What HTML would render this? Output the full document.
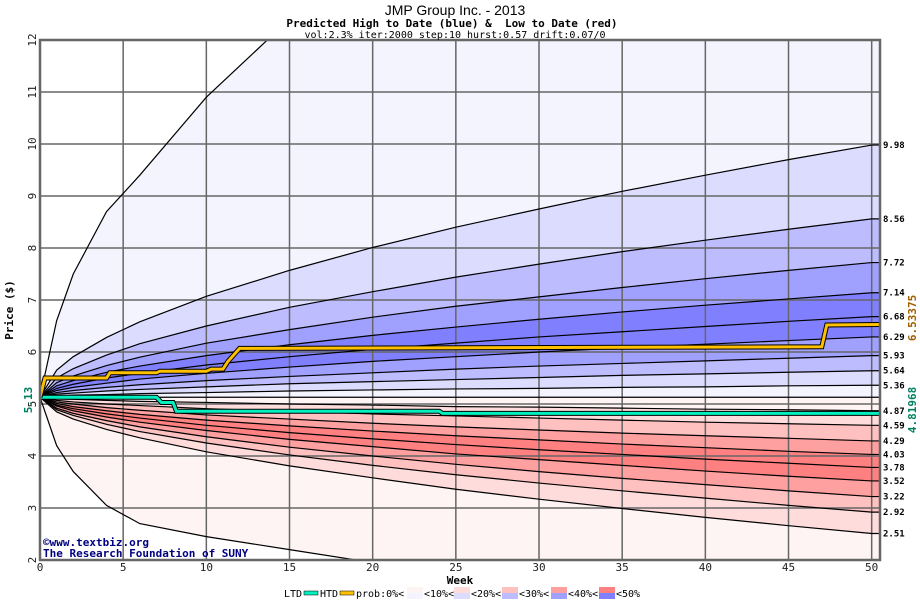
<!DOCTYPE html>
<html><head><meta charset="utf-8"><style>
body{margin:0;background:#fff;width:920px;height:600px;overflow:hidden}
svg{display:block;font-family:"DejaVu Sans Mono","Liberation Mono",monospace}
</style></head><body>
<svg id="c" width="920" height="600" xmlns="http://www.w3.org/2000/svg"></svg>
<script>
const weeks=[0,1,2,4,6,10,15,20,25,30,35,40,45,50,50.5];
const outerHigh=[5.13,6.6,7.5,8.7,9.4,10.9,12.4,12.7,12.9,13.1,13.3,13.5,13.7,13.9,13.9];
const p998=[5.13,5.65,5.91,6.28,6.58,7.07,7.57,8.01,8.40,8.75,9.09,9.40,9.70,9.98,9.98];
const p856=[5.13,5.50,5.68,5.94,6.16,6.50,6.86,7.16,7.44,7.69,7.93,8.15,8.36,8.56,8.56];
const p772=[5.13,5.41,5.54,5.74,5.90,6.17,6.43,6.67,6.88,7.06,7.24,7.41,7.57,7.72,7.72];
const p714=[5.13,5.35,5.45,5.61,5.73,5.93,6.14,6.32,6.48,6.63,6.77,6.90,7.02,7.14,7.14];
const p668=[5.13,5.30,5.38,5.50,5.59,5.75,5.91,6.05,6.17,6.29,6.39,6.49,6.59,6.68,6.68];
const p629=[5.13,5.26,5.32,5.40,5.48,5.59,5.71,5.82,5.91,6.00,6.08,6.15,6.22,6.29,6.29];
const p593=[5.13,5.22,5.26,5.32,5.37,5.45,5.53,5.60,5.67,5.73,5.78,5.83,5.88,5.93,5.93];
const p564=[5.13,5.19,5.21,5.25,5.28,5.33,5.39,5.43,5.47,5.51,5.55,5.58,5.61,5.64,5.64];
const p536=[5.13,5.15,5.17,5.18,5.20,5.22,5.25,5.27,5.29,5.30,5.32,5.33,5.35,5.36,5.36];
const p513=[5.13,5.13,5.13,5.13,5.13,5.13,5.13,5.13,5.13,5.13,5.13,5.13,5.13,5.13,5.13];
const p487=[5.13,5.10,5.09,5.07,5.05,5.03,5.00,4.98,4.95,4.94,4.92,4.90,4.89,4.87,4.87];
const p459=[5.13,5.07,5.04,5.00,4.97,4.91,4.86,4.81,4.77,4.73,4.69,4.65,4.62,4.59,4.59];
const p429=[5.13,5.04,5.00,4.93,4.88,4.79,4.71,4.63,4.56,4.50,4.44,4.39,4.34,4.29,4.29];
const p403=[5.13,5.01,4.95,4.87,4.80,4.69,4.58,4.48,4.39,4.31,4.23,4.16,4.09,4.03,4.03];
const p378=[5.13,4.98,4.91,4.81,4.73,4.59,4.45,4.33,4.22,4.12,4.03,3.94,3.86,3.78,3.78];
const p352=[5.13,4.96,4.87,4.75,4.65,4.49,4.32,4.18,4.04,3.93,3.82,3.71,3.61,3.52,3.52];
const p322=[5.13,4.92,4.82,4.68,4.56,4.37,4.17,4.00,3.84,3.70,3.57,3.45,3.33,3.22,3.22];
const p292=[5.13,4.89,4.78,4.61,4.47,4.25,4.02,3.82,3.64,3.48,3.33,3.19,3.05,2.92,2.92];
const p251=[5.13,4.85,4.71,4.51,4.35,4.08,3.81,3.58,3.36,3.17,2.99,2.82,2.66,2.51,2.51];
const outerLow=[5.13,4.2,3.7,3.05,2.7,2.45,2.2,1.95,1.8,1.7,1.6,1.5,1.4,1.3,1.3];
const endLabels=["9.98","8.56","7.72","7.14","6.68","6.29","5.93","5.64","5.36","4.87","4.59","4.29","4.03","3.78","3.52","3.22","2.92","2.51"];
const htdWeeks=[0,0.3,4,4.2,7,7.2,10,10.3,11,11.3,12,47,47.3,50.5];
const htdVals=[5.13,5.5,5.5,5.6,5.6,5.63,5.63,5.67,5.67,5.82,6.07,6.1,6.52,6.53];
const ltdWeeks=[0,7,7.3,8,8.2,24,24.2,50.5];
const ltdVals=[5.13,5.13,5.03,5.03,4.86,4.86,4.82,4.82];
const xTicks=[0,5,10,15,20,25,30,35,40,45,50];
const yTicks=[2,3,4,5,6,7,8,9,10,11,12];

const X0=40,X1=880,Y0=40,Y1=560;
const x=w=>X0+w*(X1-X0)/50.5;
const y=v=>Y1-(v-2)*(Y1-Y0)/10;
const NS="http://www.w3.org/2000/svg";
const svg=document.getElementById('c');
function mk(t,a,p){const e=document.createElementNS(NS,t);for(const k in a)e.setAttribute(k,a[k]);(p||svg).appendChild(e);return e;}
function txt(s,a,p){const e=mk('text',a,p);e.textContent=s;return e;}

const defs=mk('defs',{});
const cp=mk('clipPath',{id:'pc'},defs);mk('rect',{x:X0,y:Y0,width:X1-X0,height:Y1-Y0},cp);
const g=mk('g',{'clip-path':'url(#pc)'});
const lines=[outerHigh,p998,p856,p772,p714,p668,p629,p593,p564,p536,p513,p487,p459,p429,p403,p378,p352,p322,p292,p251,outerLow];
const fills=["#f4f4ff","#dcdcff","#bcbcff","#a0a0ff","#8080ff","#8080ff","#a0a0ff","#bcbcff","#dcdcff","#f4f4ff","#fff4f4","#ffdcdc","#ffc0c0","#ffa0a0","#ff8080","#ff8080","#ffa0a0","#ffc0c0","#ffdcdc","#fff4f4"];
for(let i=0;i<lines.length-1;i++){
  const a=lines[i],b=lines[i+1];
  let d=weeks.map((w,j)=>(j?'L':'M')+x(w)+','+y(a[j])).join('');
  for(let j=weeks.length-1;j>=0;j--)d+='L'+x(weeks[j])+','+y(b[j]);
  const band=mk('path',{d:d+'Z',fill:fills[i]},g);
  
  
}
for(const t of xTicks){if(t>0)mk('line',{x1:x(t),x2:x(t),y1:Y0,y2:Y1,stroke:'#666','stroke-width':1.5},g);}
for(const t of yTicks){mk('line',{x1:X0,x2:X1,y1:y(t),y2:y(t),stroke:'#666','stroke-width':1.5},g);}
lines.forEach((a,i)=>{
  const pl=mk('polyline',{points:weeks.map((w,j)=>x(w)+','+y(a[j])).join(' '),fill:'none',stroke:'#000','stroke-width':1.2},g);
  
  
});
function step(ws,vs,col,name){
  const pts=ws.map((w,j)=>x(w)+','+y(vs[j])).join(' ');
  mk('polyline',{points:pts,fill:'none',stroke:'#000','stroke-width':5},g);
  const l=mk('polyline',{points:pts,fill:'none',stroke:col,'stroke-width':3},g);
  
  
}
step(ltdWeeks,ltdVals,'#00f0c0','ltd-line');
step(htdWeeks,htdVals,'#ffc000','htd-line');
mk('rect',{x:X0,y:Y0,width:X1-X0,height:Y1-Y0,fill:'none',stroke:'#666','stroke-width':2.5});
const ends=[p998,p856,p772,p714,p668,p629,p593,p564,p536,p487,p459,p429,p403,p378,p352,p322,p292,p251];
ends.forEach((a,i)=>{
  const t=txt(endLabels[i],{x:883,y:y(a[a.length-1])+3,'font-size':9,'font-weight':'bold'});
  
  
});
xTicks.forEach(t=>{const e=txt(String(t),{x:x(t),y:571,'font-size':11,'text-anchor':'middle',fill:'#222'});
  });
yTicks.forEach(t=>{const e=txt(String(t),{x:0,y:0,'font-size':11,'text-anchor':'middle',fill:'#222',transform:`translate(36,${y(t)}) rotate(-90)`});
  });
</script>
<svg style="position:absolute;left:0;top:0" width="920" height="600" font-family="DejaVu Sans Mono, Liberation Mono, monospace">
<text x="455" y="15" font-size="14" text-anchor="middle" font-family="Liberation Sans, sans-serif">JMP Group Inc. - 2013</text>
<text x="452" y="27" font-size="11" font-weight="bold" text-anchor="middle" xml:space="preserve">Predicted High to Date (blue) &amp;  Low to Date (red)</text>
<text x="455" y="38" font-size="10" text-anchor="middle">vol:2.3% iter:2000 step:10 hurst:0.57 drift:0.07/0</text>
<text transform="translate(13,310) rotate(-90)" font-size="11" font-weight="bold" text-anchor="middle">Price ($)</text>
<text transform="translate(32,400) rotate(-90)" font-size="11" font-weight="bold" fill="#008060" text-anchor="middle">5.13</text>
<text transform="translate(916,318) rotate(-90)" font-size="11" font-weight="bold" fill="#a06000" text-anchor="middle">6.53375</text>
<text transform="translate(916,410) rotate(-90)" font-size="11" font-weight="bold" fill="#008060" text-anchor="middle">4.81968</text>
<text x="460" y="584" font-size="11" font-weight="bold" text-anchor="middle">Week</text>
<text x="43" y="546" font-size="11" font-weight="bold" fill="#000080">©www.textbiz.org</text>
<text x="43" y="557" font-size="11" font-weight="bold" fill="#000080">The Research Foundation of SUNY</text>
<g font-size="10">
<text x="284" y="597">LTD</text><rect x="304" y="591" width="14" height="4" fill="#00f0c0" stroke="#000" stroke-width="0.5"/>
<text x="320" y="597">HTD</text><rect x="340" y="591" width="14" height="4" fill="#ffc000" stroke="#000" stroke-width="0.5"/>
<text x="356" y="597">prob:0%&lt;</text>
<rect x="407" y="587" width="16" height="6" fill="#fff4f4"/><rect x="407" y="593" width="16" height="6" fill="#f4f4ff"/><text x="424" y="597">&lt;10%&lt;</text>
<rect x="454" y="587" width="16" height="6" fill="#ffdcdc"/><rect x="454" y="593" width="16" height="6" fill="#dcdcff"/><text x="471" y="597">&lt;20%&lt;</text>
<rect x="502" y="587" width="16" height="6" fill="#ffc0c0"/><rect x="502" y="593" width="16" height="6" fill="#bcbcff"/><text x="519" y="597">&lt;30%&lt;</text>
<rect x="551" y="587" width="16" height="6" fill="#ffa0a0"/><rect x="551" y="593" width="16" height="6" fill="#a0a0ff"/><text x="568" y="597">&lt;40%&lt;</text>
<rect x="599" y="587" width="16" height="6" fill="#ff8080"/><rect x="599" y="593" width="16" height="6" fill="#8080ff"/><text x="616" y="597">&lt;50%</text>
</g>
</svg>
</body></html>
